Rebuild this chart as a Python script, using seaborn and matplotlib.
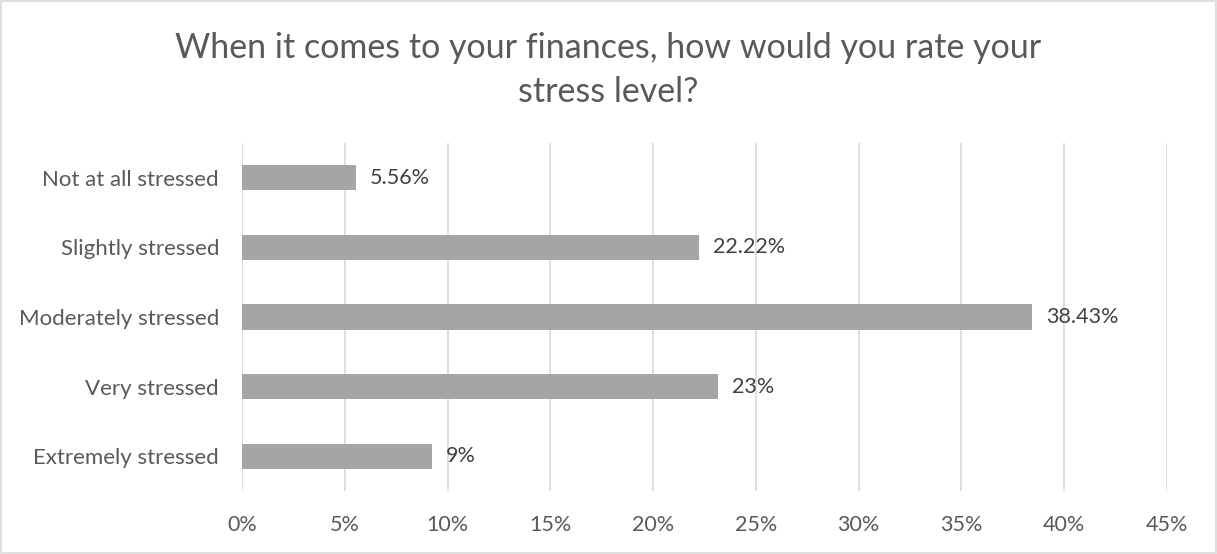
import matplotlib
matplotlib.use("Agg")
import matplotlib.pyplot as plt
import seaborn as sns
import pandas as pd
from matplotlib.patches import Rectangle

categories = ["Not at all stressed", "Slightly stressed", "Moderately stressed",
              "Very stressed", "Extremely stressed"]
values = [5.56, 22.22, 38.43, 23.15, 9.26]
value_labels = ["5.56%", "22.22%", "38.43%", "23%", "9%"]
xticks = [0, 5, 10, 15, 20, 25, 30, 35, 40, 45]
xtick_labels = [f"{t}%" for t in xticks]
title = "When it comes to your finances, how would you rate your\nstress level?"

sns.set_theme(style="white")
plt.rcParams["font.family"] = ["Lato", "DejaVu Sans"]

TXT = "#595959"
df = pd.DataFrame({"cat": categories, "val": values})

fig = plt.figure(figsize=(12.17, 5.54), dpi=100)
ax = fig.add_axes([242/1217, 1 - 491/554, (1167-242)/1217, (491-143)/554])

sns.barplot(data=df, x="val", y="cat", orient="h", color="#a5a5a5",
            width=0.36, saturation=1, ax=ax)
for p in ax.patches:
    p.set_edgecolor("none")

ax.set_xlim(0, 45)
ax.set_xticks(xticks)
ax.set_xticklabels(xtick_labels)
ax.set_xlabel("")
ax.set_ylabel("")
ax.grid(axis="x", color="#d9d9d9", linewidth=1.2)
ax.set_axisbelow(True)
for s in ax.spines.values():
    s.set_visible(False)
ax.tick_params(axis="x", length=0, pad=17, labelsize=15.5, labelcolor=TXT)
ax.tick_params(axis="y", length=0, pad=16.5, labelsize=16, labelcolor=TXT)

ax.bar_label(ax.containers[0], labels=value_labels, padding=10,
             fontsize=15.5, color="#404040")

fig.text(0.5, 1 - 70/554, title, ha="center", va="center", fontsize=24.5,
         color=TXT, linespacing=1.5)

fig.patches.append(Rectangle((0.0008, 0.001), 0.9984, 0.997, transform=fig.transFigure,
                             fill=False, edgecolor="#d9d9d9", linewidth=1.2))

fig.savefig("out.png", dpi=100, facecolor="white")
